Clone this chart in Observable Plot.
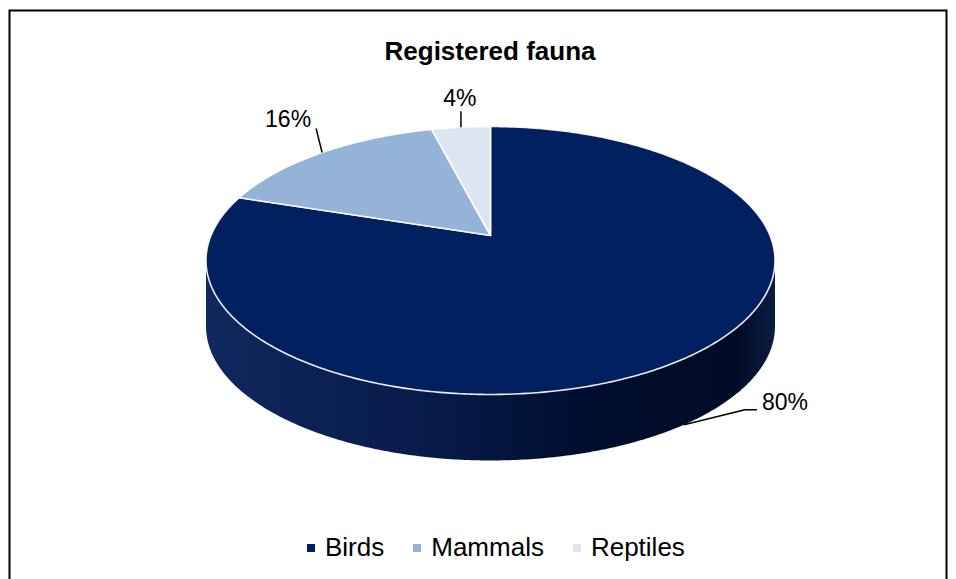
<!DOCTYPE html>
<html><head><meta charset="utf-8">
<script src="https://cdn.jsdelivr.net/npm/d3@7"></script>
<script src="https://cdn.jsdelivr.net/npm/@observablehq/plot@0.6"></script>
<style>
html,body{margin:0;padding:0;overflow:hidden;background:#fff;width:956px;height:579px;}
#chart{position:absolute;left:0;top:0;}
#legend{position:absolute;left:307px;top:532px;}
.lg-swatches{font-family:"Liberation Sans",Arial,sans-serif !important;font-size:26px !important;color:#000 !important;margin:0 !important;min-height:0 !important;}
.lg-swatch{margin-right:29px !important;}
.lg-swatch > svg{margin-right:10px !important;}
</style></head><body>
<div id="chart"></div><div id="legend"></div>
<script>
// ---- data ----
const title = "Registered fauna";
const categories = ["Birds", "Mammals", "Reptiles"];
const shares = [80, 16, 4];
const percentLabels = ["80%", "16%", "4%"];
const colors = ["#002060", "#95B3D7", "#DCE6F2"];

// ---- layout / style (pixels) ----
const K = 0.1866;             // perspective factor
const CX = 490, CY = 235;     // pie centre on the page
const SX = 279.5, SY = 129.3; // pixel size of one radius unit
const DEPTH = 66 / SY;        // thickness of the pie
const labelLayout = [
  {leader: [[0, 0], [61, -15], [73, -15]], text: [101, -22]},
  {leader: [[0, 0], [-6, -24]], text: [-34, -33]},
  {leader: [[0, 0], [0, -16]], text: [-1, -29]}
];

function proj(t, drop = 0) {
  const d = 1 + K * Math.cos(t);
  return [Math.sin(t) / d, Math.cos(t) / d - drop];
}

const total = d3.sum(shares);
let acc = 0;
const slices = categories.map((name, i) => {
  const a0 = acc / total * 2 * Math.PI;
  acc += shares[i];
  const a1 = acc / total * 2 * Math.PI;
  return {name, i, a0, a1, label: percentLabels[i]};
});

function arc(a0, a1, drop = 0) {
  const n = Math.max(2, Math.ceil(Math.abs(a1 - a0) / 0.01));
  return d3.range(n + 1).map(j => proj(a0 + (a1 - a0) * j / n, drop));
}

// top faces
const topPts = [];
for (const s of slices) {
  const pts = [[0, 0], ...arc(s.a0, s.a1), [0, 0]];
  for (const p of pts) topPts.push({name: s.name, x: p[0], y: p[1]});
}

// visible side wall
const tA = Math.acos(-K), tB = 2 * Math.PI - tA;
const sidePts = [];
for (const s of slices) {
  const s0 = Math.max(s.a0, tA), s1 = Math.min(s.a1, tB);
  if (s0 >= s1) continue;
  const pts = [...arc(s0, s1), ...arc(s1, s0, DEPTH)];
  pts.push(pts[0]);
  for (const p of pts) sidePts.push({name: s.name, x: p[0], y: p[1]});
}

// label anchors, leaders and texts
const leaderPts = [], labelPts = [];
slices.forEach((s, i) => {
  const mid = (s.a0 + s.a1) / 2;
  const onSide = mid > tA && mid < tB;
  const [ax, ay] = proj(mid, onSide ? DEPTH : 0);
  const L = labelLayout[i];
  for (const [px, py] of L.leader) leaderPts.push({id: s.name, x: ax + px / SX, y: ay - py / SY});
  labelPts.push({text: s.label, x: ax + L.text[0] / SX, y: ay - L.text[1] / SY});
});

const defsMark = () => {
  const svg = d3.create("svg:g");
  const g = svg.append("defs").append("linearGradient").attr("id", "sideGrad")
    .attr("x1", 0).attr("x2", 1).attr("y1", 0).attr("y2", 0);
  [[0, "#10285e"], [0.4, "#071a4a"], [0.65, "#000f30"], [0.93, "#000b26"], [1, "#0b1c40"]]
    .forEach(([o, c]) => g.append("stop").attr("offset", o).attr("stop-color", c));
  return svg.node();
};

const chart = Plot.plot({
  width: 956, height: 600,
  marginLeft: 9, marginRight: 10, marginTop: 10, marginBottom: 0,
  style: {fontFamily: "'Liberation Sans', Arial, sans-serif", background: "#fff", color: "#000"},
  x: {domain: [-1, 1], range: [CX - SX, CX + SX], axis: null},
  y: {domain: [-1, 1], range: [CY + SY, CY - SY], axis: null},
  color: {domain: categories, range: colors},
  marks: [
    defsMark,
    Plot.line(sidePts, {x: "x", y: "y", z: "name", fill: "url(#sideGrad)", stroke: "none", curve: "linear"}),
    Plot.line(topPts, {x: "x", y: "y", z: "name", fill: "name", stroke: "#fff", strokeOpacity: 0.9, strokeWidth: 1.6, curve: "linear"}),
    Plot.line(leaderPts, {x: "x", y: "y", z: "id", stroke: "#000", strokeWidth: 1.5, curve: "linear", strokeLinecap: "butt"}),
    Plot.text(labelPts, {x: "x", y: "y", text: "text", fontSize: 23, lineAnchor: "middle", fill: "#000"}),
    Plot.text([title], {text: d => d, frameAnchor: "top", dx: 12, dy: 41.6, lineAnchor: "middle", fontSize: 26, fontWeight: "bold", fill: "#000"}),
    Plot.frame({stroke: "#000", strokeWidth: 2})
  ]
});
document.getElementById("chart").append(chart);

const legend = chart.legend("color", {
  swatchSize: 8, className: "lg",
  style: {fontSize: "26px", fontFamily: "'Liberation Sans', Arial, sans-serif", color: "#000"}
});
document.getElementById("legend").append(legend);
</script>
</body></html>
